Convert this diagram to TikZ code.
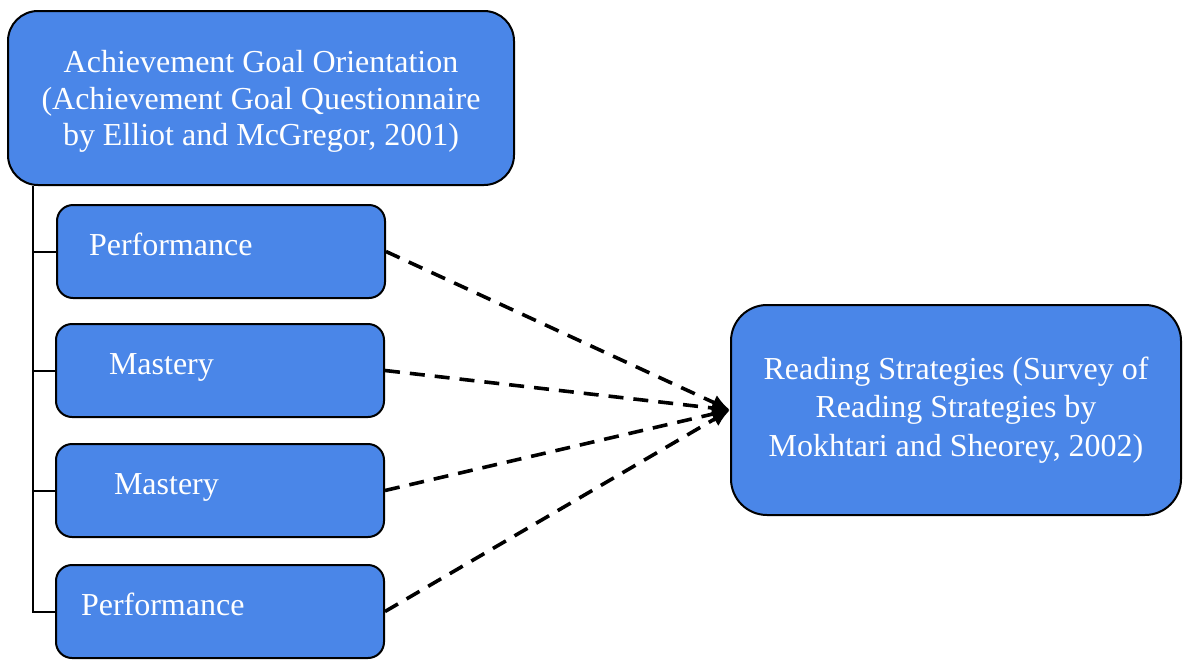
\documentclass[tikz,border=0pt]{standalone}
\usepackage{fontspec}
\setmainfont{Liberation Serif}
\usetikzlibrary{arrows.meta}
\definecolor{boxblue}{RGB}{74,134,232}
\tikzset{
  goalbox/.style={draw=black,line width=1pt,fill=boxblue,text=white,rounded corners=15pt,
    minimum width=253pt,minimum height=87pt,align=center,text depth=0pt,
    font=\fontsize{16}{18.3}\selectfont},
  subbox/.style={draw=black,line width=1pt,fill=boxblue,text=white,rounded corners=8pt,
    minimum width=164pt,minimum height=46.5pt,inner sep=0pt,text width=164pt,align=left,
    text height=11pt,text depth=7pt,font=\fontsize{16}{18.3}\selectfont},
  readbox/.style={draw=black,line width=1pt,fill=boxblue,text=white,rounded corners=18pt,
    minimum width=225pt,minimum height=105pt,align=center,font=\fontsize{16}{19.2}\selectfont},
  dashlink/.style={line width=1.8pt,dash pattern=on 7.5pt off 5pt,-{Latex[length=9pt,width=8pt]}}
}
\begin{document}
\begin{tikzpicture}[x=0.5pt,y=-0.5pt]
\useasboundingbox (0,0) rectangle (1183,659);
\node[goalbox] (goal) at (261,98) {Achievement Goal Orientation\\(Achievement Goal Questionnaire\\by Elliot and McGregor, 2001)};

\node[subbox] (perf1) at (221,251.5) {\hspace*{16pt}Performance};
\node[subbox] (mast1) at (220,370.5) {\hspace*{26.5pt}Mastery};
\node[subbox] (mast2) at (220,490.5) {\hspace*{29pt}Mastery};
\node[subbox] (perf2) at (220,611.5) {\hspace*{12.5pt}Performance};

\node[readbox] (reading) at (956,410) {Reading Strategies (Survey of\\Reading Strategies by\\Mokhtari and Sheorey, 2002)};

% tree on the left
\coordinate (trunk) at (33,185);
\draw[line width=1pt] (goal.south -| trunk) |- (perf2.west);
\draw[line width=1pt] (trunk |- perf1.west) -- (perf1.west);
\draw[line width=1pt] (trunk |- mast1.west) -- (mast1.west);
\draw[line width=1pt] (trunk |- mast2.west) -- (mast2.west);

% links to reading strategies
\draw[dashlink] (perf1.east) -- (reading.west);
\draw[dashlink] (mast1.east) -- (reading.west);
\draw[dashlink] (mast2.east) -- (reading.west);
\draw[dashlink] (perf2.east) -- (reading.west);
\end{tikzpicture}
\end{document}
